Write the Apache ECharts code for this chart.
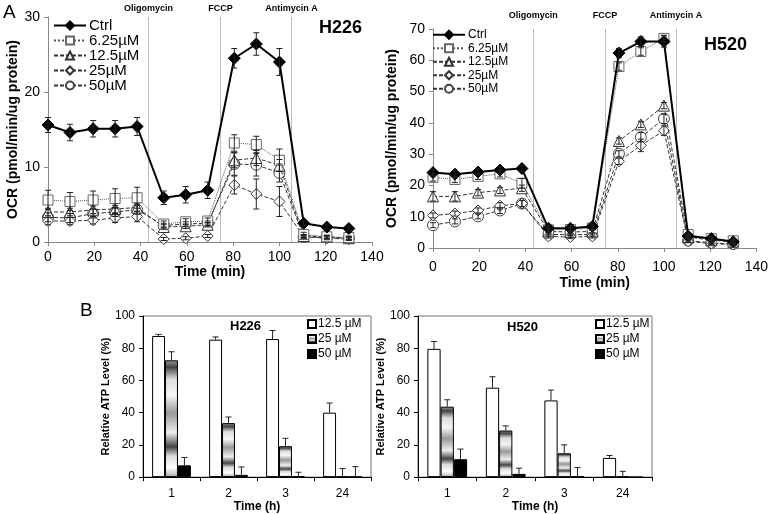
<!DOCTYPE html>
<html>
<head>
<meta charset="utf-8">
<script src="https://cdn.jsdelivr.net/npm/echarts@6/dist/echarts.min.js"></script>
<style>
html, body { margin: 0; padding: 0; background: #fff; }
#main { width: 771px; height: 514px; }
</style>
</head>
<body>
<div id="main"></div>
<script>
// ---- panel A: OCR time course ----
var times = [0, 9.5, 19.5, 29, 38.5, 50, 59.5, 69, 80.5, 90, 100, 110.5, 120.5, 130];
var doseNames = ['Ctrl', '6.25µM', '12.5µM', '25µM', '50µM'];
var injectTimes = [43.4, 74.5, 105.2];
var injectNames = ['Oligomycin', 'FCCP', 'Antimycin A'];

var h226Ctrl = [15.6, 14.6, 15.1, 15.1, 15.4, 5.9, 6.3, 6.9, 24.5, 26.4, 24.0, 2.5, 2.0, 1.8];
var h226D625 = [5.6, 5.4, 5.6, 5.8, 5.9, 2.4, 2.7, 2.8, 13.2, 13.0, 10.9, 1.0, 0.7, 0.6];
var h226D125 = [4.0, 4.0, 4.3, 4.4, 4.6, 2.0, 2.1, 2.3, 10.9, 11.2, 10.2, 0.8, 0.7, 0.5];
var h226D25 = [2.8, 2.8, 2.9, 3.2, 3.4, 0.4, 0.5, 0.8, 7.6, 6.4, 5.4, 0.7, 0.5, 0.4];
var h226D50 = [3.3, 3.2, 3.8, 4.0, 4.3, 2.2, 2.4, 2.5, 10.4, 10.3, 9.2, 0.7, 0.6, 0.5];
var h226CtrlErr = [1.0, 1.1, 1.1, 1.1, 1.2, 0.9, 1.1, 1.1, 1.3, 1.5, 1.8, 0.3, 0.3, 0.3];
var h226D625Err = [1.3, 1.2, 1.2, 1.3, 1.4, 0.4, 0.4, 0.4, 1.1, 1.1, 1.5, 0.3, 0.2, 0.2];
var h226D125Err = [0.5, 0.5, 0.5, 0.5, 0.5, 0.3, 0.3, 0.3, 1.0, 1.0, 0.8, 0.2, 0.2, 0.2];
var h226D25Err = [0.5, 0.5, 0.5, 0.6, 0.7, 0.2, 0.2, 0.2, 1.2, 2.0, 2.0, 0.2, 0.2, 0.2];
var h226D50Err = [0.6, 0.6, 0.6, 0.6, 0.6, 0.3, 0.3, 0.3, 1.5, 1.5, 1.2, 0.2, 0.2, 0.2];

var h520Ctrl = [24.1, 23.6, 24.3, 24.9, 25.4, 6.3, 6.3, 6.9, 62.3, 66.0, 66.0, 3.8, 3.0, 2.0];
var h520D625 = [22.6, 21.9, 22.9, 23.7, 20.7, 5.8, 5.9, 6.4, 58.0, 62.8, 67.0, 4.3, 3.0, 2.3];
var h520D125 = [16.5, 16.5, 17.7, 18.4, 19.1, 5.3, 5.1, 5.3, 34.2, 39.5, 45.5, 3.5, 2.5, 2.0];
var h520D25 = [10.4, 11.0, 12.0, 13.5, 14.2, 3.7, 3.5, 3.7, 27.7, 32.8, 37.5, 2.1, 1.4, 1.1];
var h520D50 = [7.3, 8.5, 10.1, 12.0, 14.2, 4.3, 4.3, 4.3, 30.1, 35.4, 41.3, 2.4, 1.6, 1.3];
var h520CtrlErr = [1.0, 1.0, 1.0, 1.0, 1.0, 0.8, 0.8, 0.8, 1.5, 1.5, 1.8, 0.5, 0.5, 0.5];
var h520D625Err = [1.2, 1.0, 1.0, 1.0, 1.5, 0.6, 0.6, 0.6, 1.2, 1.2, 1.0, 0.5, 0.5, 0.5];
var h520D125Err = [1.5, 1.5, 1.0, 1.0, 1.0, 0.5, 0.5, 0.5, 1.0, 1.0, 1.0, 0.4, 0.4, 0.4];
var h520D25Err = [0.8, 0.8, 0.8, 1.0, 1.0, 0.5, 0.5, 0.5, 1.0, 2.0, 1.5, 0.4, 0.4, 0.4];
var h520D50Err = [0.8, 0.8, 0.8, 1.0, 1.0, 0.5, 0.5, 0.5, 1.0, 1.5, 1.5, 0.4, 0.4, 0.4];

// ---- panel B: relative ATP ----
var hours = ['1', '2', '3', '24'];
var atpNames = ['12.5 µM', '25 µM', '50 µM'];
var h226Atp125 = [87.6, 85.3, 85.7, 40.0];
var h226Atp25 = [72.5, 33.5, 19.2, 0.5];
var h226Atp50 = [7.3, 1.4, 0.6, 0.3];
var h226Atp125Err = [1.0, 1.7, 5.3, 6.0];
var h226Atp25Err = [5.3, 3.8, 4.9, 4.8];
var h226Atp50Err = [4.9, 4.9, 2.4, 6.2];
var h520Atp125 = [79.6, 55.5, 47.6, 11.9];
var h520Atp25 = [43.7, 28.9, 14.8, 0.5];
var h520Atp50 = [11.1, 2.0, 0.5, 0];
var h520Atp125Err = [4.6, 6.8, 6.4, 1.5];
var h520Atp25Err = [4.3, 2.9, 5.2, 3.1];
var h520Atp50Err = [6.3, 3.5, 5.4, 0];

var FONT = 'Liberation Sans, Arial, sans-serif';

var doseStyles = [
    {symbol: 'diamond', size: 12, fill: '#000', stroke: '#000', line: 'solid', color: '#000', width: 2},
    {symbol: 'rect', size: 10, fill: '#fff', stroke: '#666', line: 'dotted', color: '#555', width: 1},
    {symbol: 'triangle', size: 11, fill: '#fff', stroke: '#333', line: [4, 2], color: '#333', width: 1},
    {symbol: 'diamond', size: 11, fill: '#fff', stroke: '#333', line: [4, 2], color: '#333', width: 1},
    {symbol: 'circle', size: 11, fill: '#fff', stroke: '#444', line: [4, 2], color: '#333', width: 1}
];

var atpFills = [
    '#fff',
    {type: 'linear', x: 0, y: 0, x2: 0, y2: 1, colorStops: [
        {offset: 0, color: '#999'}, {offset: 0.06, color: '#444'}, {offset: 0.16, color: '#ddd'},
        {offset: 0.3, color: '#f4f4f4'}, {offset: 0.45, color: '#999'}, {offset: 0.62, color: '#eee'},
        {offset: 0.74, color: '#444'}, {offset: 0.82, color: '#ddd'}, {offset: 0.92, color: '#fff'},
        {offset: 1, color: '#aaa'}]},
    '#000'
];

function errLine(params, api) {
    var x = api.value(0), y = api.value(1), e = api.value(2);
    var top = api.coord([x, y + e]);
    var bot = api.coord([x, y - e]);
    var cap = 3;
    var st = {stroke: '#222', lineWidth: 1};
    return {type: 'group', children: [
        {type: 'line', shape: {x1: top[0], y1: top[1], x2: bot[0], y2: bot[1]}, style: st},
        {type: 'line', shape: {x1: top[0] - cap, y1: top[1], x2: top[0] + cap, y2: top[1]}, style: st},
        {type: 'line', shape: {x1: bot[0] - cap, y1: bot[1], x2: bot[0] + cap, y2: bot[1]}, style: st}
    ]};
}

function ocrSeries(idx, means, errs, labelDist) {
    var out = [];
    means.forEach(function (m, k) {
        var s = doseStyles[k];
        var line = {
            name: doseNames[k], type: 'line', xAxisIndex: idx, yAxisIndex: idx,
            data: times.map(function (t, i) { return [t, m[i]]; }),
            symbol: s.symbol, symbolSize: s.size, z: 10 - k,
            lineStyle: {color: s.color, width: s.width, type: s.line},
            itemStyle: {color: s.fill, borderColor: s.stroke, borderWidth: 1}
        };
        if (k === 0) {
            line.markLine = {
                silent: true, symbol: 'none', animation: false,
                lineStyle: {color: '#bbb', type: 'solid', width: 1},
                label: {show: true, position: 'end', formatter: '{b}', distance: labelDist,
                    fontSize: 9, fontWeight: 'bold', color: '#000', fontFamily: FONT},
                data: injectTimes.map(function (t, i) { return {xAxis: t, name: injectNames[i]}; })
            };
        }
        out.push(line);
        out.push({
            type: 'custom', xAxisIndex: idx, yAxisIndex: idx, z: 12,
            renderItem: errLine,
            data: times.map(function (t, i) { return [t, m[i], errs[k][i]]; })
        });
    });
    return out;
}

function atpSeries(idx, vals, errs) {
    var out = [];
    vals.forEach(function (v, k) {
        out.push({
            name: atpNames[k], type: 'bar', xAxisIndex: idx, yAxisIndex: idx,
            data: v, barGap: '0%', barCategoryGap: '32%',
            itemStyle: {color: atpFills[k], borderColor: '#000', borderWidth: 1}
        });
    });
    errs.forEach(function (e, k) {
        out.push({
            type: 'custom', xAxisIndex: idx, yAxisIndex: idx, z: 5,
            renderItem: function (params, api) {
                var c = api.value(0), y = api.value(1), err = api.value(2);
                if (!err) return null;
                var base = api.coord([c, y]);
                var top = api.coord([c, y + err]);
                var bw = api.size([1, 0])[0] * 0.68 / 3;
                var x = base[0] + (k - 1) * bw;
                var st = {stroke: '#222', lineWidth: 1};
                return {type: 'group', children: [
                    {type: 'line', shape: {x1: x, y1: base[1], x2: x, y2: top[1]}, style: st},
                    {type: 'line', shape: {x1: x - 3, y1: top[1], x2: x + 3, y2: top[1]}, style: st}
                ]};
            },
            data: hours.map(function (h, i) { return [i, vals[k][i], e[i]]; })
        });
    });
    return out;
}

var ocrAxisStyle = {
    axisLine: {show: true, lineStyle: {color: '#888'}},
    axisTick: {show: true, inside: false, length: 4, lineStyle: {color: '#888'}},
    splitLine: {show: false},
    axisLabel: {color: '#000', fontSize: 14, fontFamily: FONT}
};

function ocrX(grid, margin, gap) {
    return Object.assign({
        type: 'value', gridIndex: grid, min: 0, max: 140, interval: 20,
        name: 'Time (min)', nameLocation: 'middle', nameGap: gap,
        nameTextStyle: {fontSize: 14, fontWeight: 'bold', color: '#000', fontFamily: FONT}
    }, ocrAxisStyle, {axisLabel: {color: '#000', fontSize: 14, fontFamily: FONT, margin: margin}});
}
function ocrY(grid, max, gap) {
    return Object.assign({
        type: 'value', gridIndex: grid, min: 0, max: max, interval: 10,
        name: 'OCR (pmol/min/ug protein)', nameLocation: 'middle', nameGap: gap,
        nameTextStyle: {fontSize: 14, fontWeight: 'bold', color: '#000', fontFamily: FONT}
    }, ocrAxisStyle);
}
function atpX(grid) {
    return {
        type: 'category', gridIndex: grid, data: hours,
        name: 'Time (h)', nameLocation: 'middle', nameGap: 13,
        nameTextStyle: {fontSize: 12, fontWeight: 'bold', color: '#000', fontFamily: FONT},
        axisLine: {lineStyle: {color: '#000'}},
        axisTick: {show: true, length: 4, lineStyle: {color: '#000'}},
        axisLabel: {color: '#000', fontSize: 12, fontFamily: FONT, margin: 11}
    };
}
function atpY(grid, gap) {
    return {
        type: 'value', gridIndex: grid, min: 0, max: 100, interval: 20,
        name: 'Relative ATP Level (%)', nameLocation: 'middle', nameGap: gap,
        nameTextStyle: {fontSize: 11, fontWeight: 'bold', color: '#000', fontFamily: FONT},
        axisLine: {show: true, lineStyle: {color: '#000'}},
        axisTick: {show: true, length: 4, lineStyle: {color: '#000'}},
        splitLine: {show: false},
        axisLabel: {color: '#000', fontSize: 12, fontFamily: FONT}
    };
}

function ocrLegend(left, top, size, lh) {
    return {
        left: left, top: top, orient: 'vertical', padding: 0, itemGap: 0,
        itemWidth: 32, itemHeight: 10, data: doseNames,
        textStyle: {fontSize: size, lineHeight: lh, color: '#000', fontFamily: FONT, padding: [0, 0, 0, -2]}
    };
}
function atpLegend(left, top) {
    return {
        left: left, top: top, orient: 'vertical', padding: 0, itemGap: 3,
        itemWidth: 8, itemHeight: 8, icon: 'rect', data: atpNames,
        textStyle: {fontSize: 12, lineHeight: 10, color: '#000', fontFamily: FONT, padding: [0, 0, 0, -3]}
    };
}

function label(text, left, top, size, bold) {
    return {text: text, left: left, top: top, padding: 0,
        textStyle: {fontSize: size, fontWeight: bold ? 'bold' : 'normal', color: '#000', fontFamily: FONT}};
}

var myChart = echarts.init(document.getElementById('main'));

var series = []
    .concat(ocrSeries(0, [h226Ctrl, h226D625, h226D125, h226D25, h226D50],
        [h226CtrlErr, h226D625Err, h226D125Err, h226D25Err, h226D50Err], 4))
    .concat(ocrSeries(1, [h520Ctrl, h520D625, h520D125, h520D25, h520D50],
        [h520CtrlErr, h520D625Err, h520D125Err, h520D25Err, h520D50Err], 9))
    .concat(atpSeries(2, [h226Atp125, h226Atp25, h226Atp50], [h226Atp125Err, h226Atp25Err, h226Atp50Err]))
    .concat(atpSeries(3, [h520Atp125, h520Atp25, h520Atp50], [h520Atp125Err, h520Atp25Err, h520Atp50Err]));

var option = {
    animation: false,
    title: [
        label('A', 3, 3, 19, false),
        label('H226', 319, 19, 18, true),
        label('H520', 704, 36, 18, true),
        label('B', 80, 301, 19, false),
        label('H226', 230, 320, 13, true),
        label('H520', 507, 321, 13, true)
    ],
    legend: [
        ocrLegend(53, 18, 15, 14),
        ocrLegend(432, 28, 12, 13.5),
        atpLegend(307, 318),
        atpLegend(595, 318)
    ],
    grid: [
        {left: 48, top: 17, right: 399, bottom: 272},
        {left: 433, top: 29, right: 14, bottom: 266},
        {left: 143, top: 316, right: 400, bottom: 28, show: true, borderColor: '#777', borderWidth: 1},
        {left: 418, top: 316, right: 119, bottom: 30, show: true, borderColor: '#777', borderWidth: 1}
    ],
    xAxis: [ocrX(0, 8, 22), ocrX(1, 12, 28), atpX(2), atpX(3)],
    yAxis: [ocrY(0, 30, 28), ocrY(1, 70, 34), atpY(2, 24), atpY(3, 26)],
    series: series
};

myChart.setOption(option);
</script>
</body>
</html>
